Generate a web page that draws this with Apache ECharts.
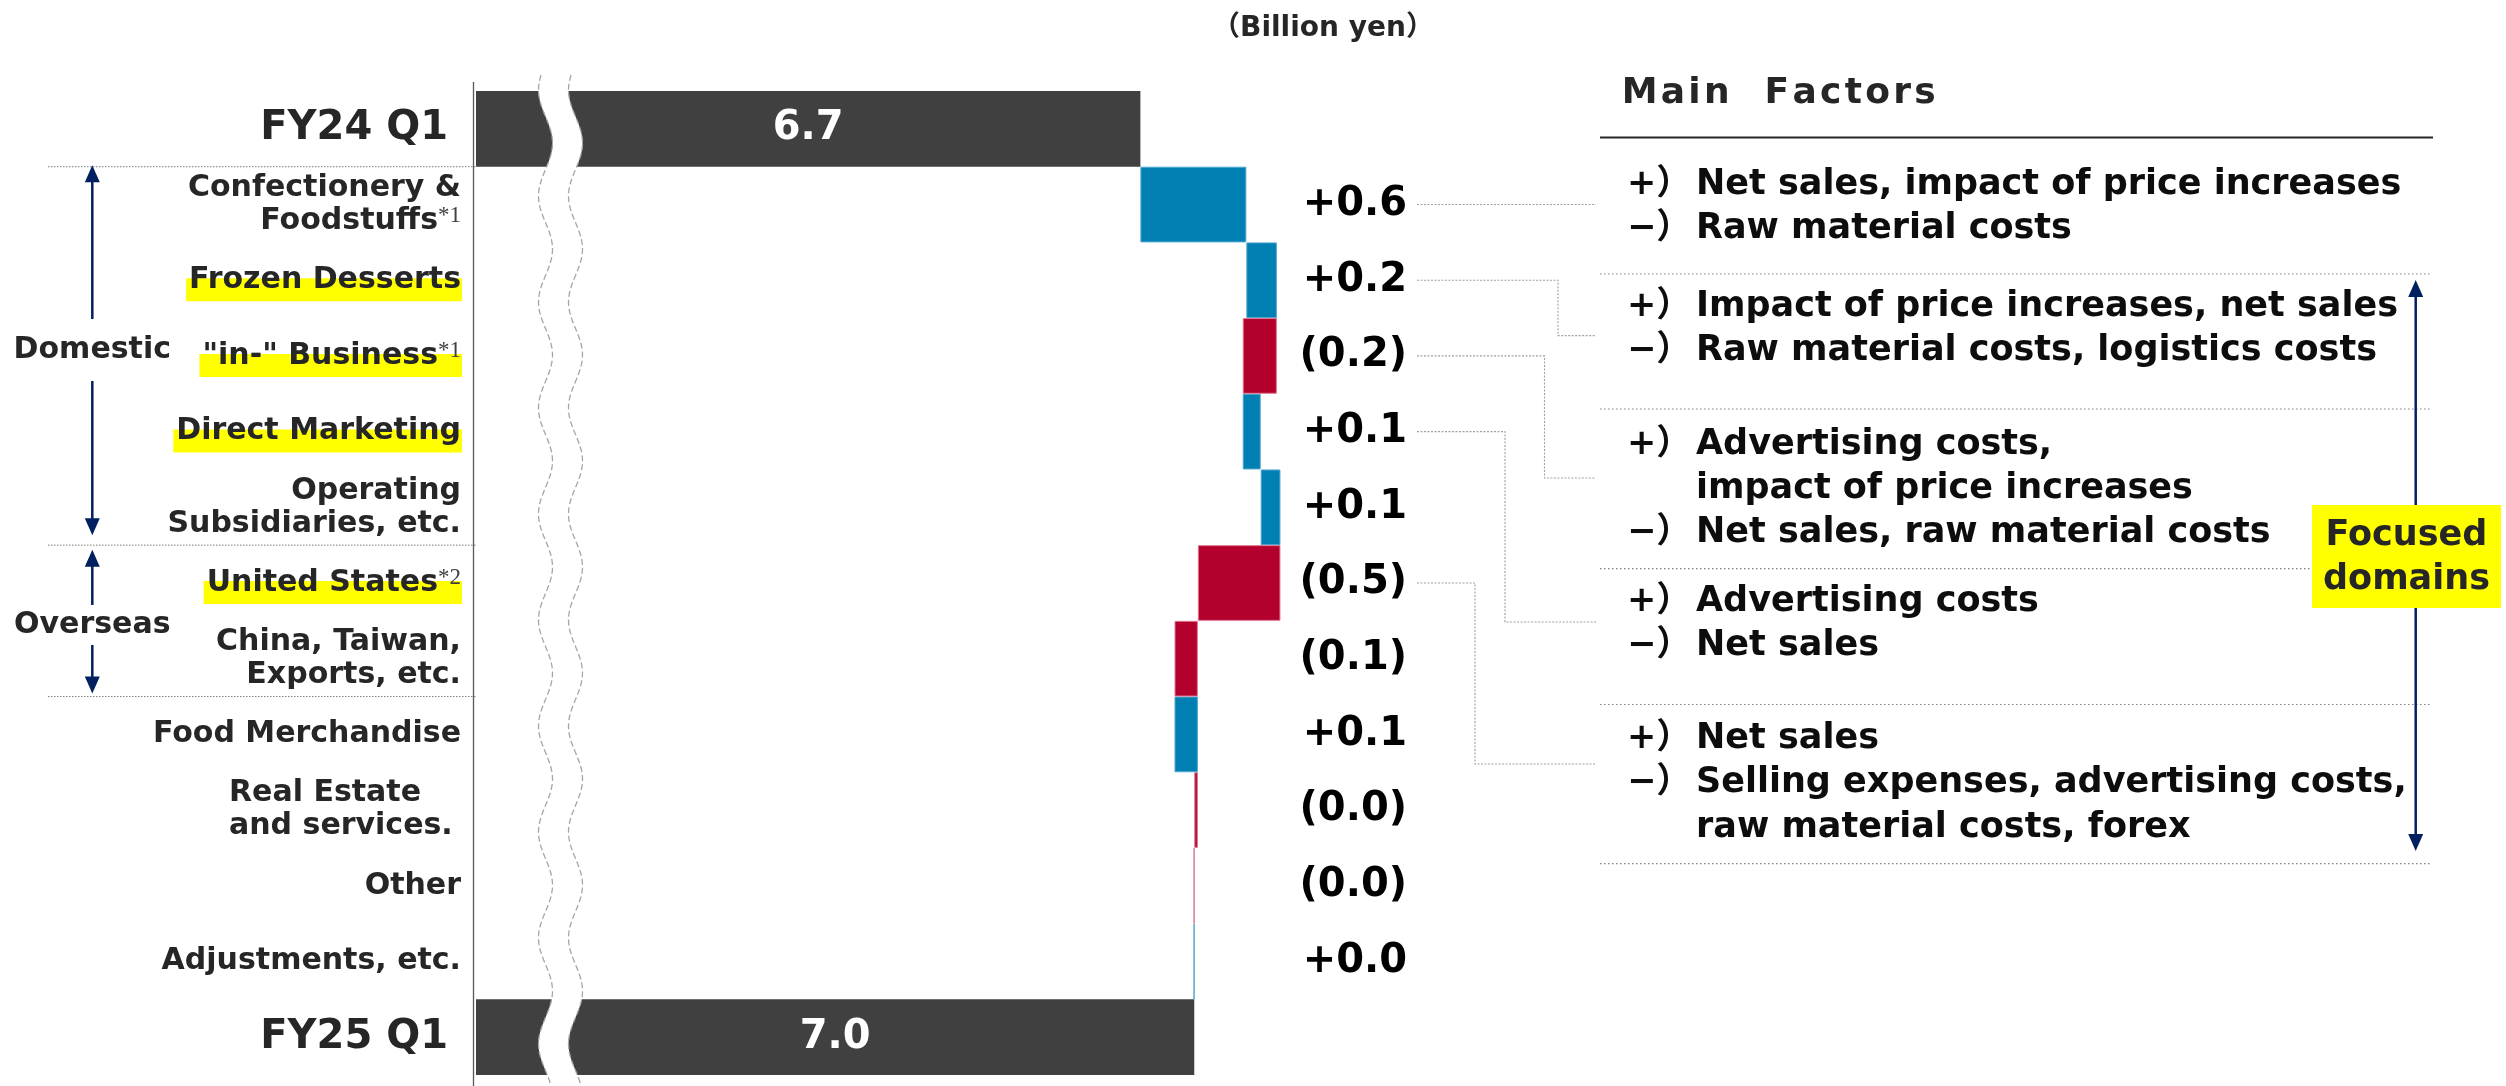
<!DOCTYPE html>
<html>
<head>
<meta charset="utf-8">
<script src="https://cdn.jsdelivr.net/npm/echarts@6/dist/echarts.min.js"></script>
<style>
html,body{margin:0;padding:0;background:#fff;}
#chart{width:2506px;height:1086px;}
</style>
</head>
<body>
<div id="chart"></div>
<script>
// ---------------- data ----------------
const categories = [
  'FY24 Q1',
  'Confectionery &\nFoodstuffs',
  'Frozen Desserts',
  '"in-" Business',
  'Direct Marketing',
  'Operating\nSubsidiaries, etc.',
  'United States',
  'China, Taiwan,\nExports, etc.',
  'Food Merchandise',
  'Real Estate\nand services.',
  'Other',
  'Adjustments, etc.',
  'FY25 Q1'
];
const footnotes = ['', '*1', '', '*1', '', '', '*2', '', '', '', '', '', ''];
const highlighted = [false, false, true, true, true, false, true, false, false, false, false, false, false];
const leftAlignedLabel = [false, false, false, false, false, false, false, false, false, true, false, false, false];
const startTotal = 6.7;
const endTotal = 7.0;
const deltas = [0.59, 0.17, -0.19, 0.10, 0.11, -0.46, -0.13, 0.13, -0.02, -0.002, 0.002];
const unitLabel = '（Billion yen）';
const factorTitle = 'Main  Factors';
const factorRowIndex = [1, 2, 3, 4, 6];
const factorPlus = [
  'Net sales, impact of price increases',
  'Impact of price increases, net sales',
  'Advertising costs,\nimpact of price increases',
  'Advertising costs',
  'Net sales'
];
const factorMinus = [
  'Raw material costs',
  'Raw material costs, logistics costs',
  'Net sales, raw material costs',
  'Net sales',
  'Selling expenses, advertising costs,\nraw material costs, forex'
];
const groupNames = ['Domestic', 'Overseas'];
const groupRows = [[1, 5], [6, 7]];
const focusLabel = ['Focused', 'domains'];

// ---------------- derived series ----------------
const n = categories.length;
const base = [0], up = ['-'], down = ['-'], total = [startTotal];
let cum = startTotal;
deltas.forEach(d => {
  const next = cum + d;
  base.push(Math.min(cum, next));
  up.push(d > 0 ? d : '-');
  down.push(d < 0 ? -d : '-');
  total.push('-');
  cum = next;
});
base.push(0); up.push('-'); down.push('-'); total.push(endTotal);

function fmtDelta(d) {
  const s = Math.abs(d).toFixed(1);
  return d < 0 ? '(' + s + ')' : '+' + s;
}

const FONT = '"DejaVu Sans", "Noto Sans CJK JP", sans-serif';
const TXT = '#262626';
const mctx = document.createElement('canvas').getContext('2d');
function textW(t, font) { mctx.font = font; return mctx.measureText(t).width; }
const fA = 'bold 30px ' + FONT, fS = '23px "Liberation Serif", serif';

// width of left-aligned multi-line label block
let alW = 0;
categories.forEach((c, i) => { if (leftAlignedLabel[i]) c.split('\n').forEach(l => { alW = Math.max(alW, textW(l, fA)); }); });

function catLabel(v, i) {
  const lines = v.split('\n');
  const st = (i === 0 || i === n - 1) ? 'big' : (leftAlignedLabel[i] ? 'al' : 'a');
  return lines.map((l, j) => '{' + st + '|' + l + '}' +
    (j === lines.length - 1 && footnotes[i] ? '{sup|' + footnotes[i] + '}' : '')).join('\n');
}

const chart = echarts.init(document.getElementById('chart'));
const option = {
  animation: false,
  backgroundColor: '#fff',
  grid: {left: 476, top: 91, width: 826, height: 984},
  xAxis: {type: 'value', min: 3, max: 7.6, show: false},
  yAxis: [
    {
      type: 'category', data: categories, inverse: true, position: 'left',
      axisLine: {show: false}, axisTick: {show: false}, splitLine: {show: false},
      axisLabel: {
        interval: 0, margin: 15, formatter: catLabel,
        rich: {
          a: {fontSize: 30, fontWeight: 'bold', fontFamily: FONT, color: TXT, lineHeight: 33},
          al: {fontSize: 30, fontWeight: 'bold', fontFamily: FONT, color: TXT, lineHeight: 33,
               width: Math.ceil(alW) + 1, align: 'left', padding: [0, 7, 0, 0]},
          big: {fontSize: 40, fontWeight: 'bold', fontFamily: FONT, color: TXT, lineHeight: 44, padding: [0, 13, 0, 0]},
          sup: {fontSize: 23, fontFamily: '"Liberation Serif", serif', color: '#404040', lineHeight: 22, verticalAlign: 'top'}
        }
      }
    },
    {
      type: 'category', data: categories, inverse: true, position: 'right',
      axisLine: {show: false}, axisTick: {show: false}, splitLine: {show: false},
      axisLabel: {
        interval: 0, margin: 105, align: 'right',
        formatter: (v, i) => (i > 0 && i < n - 1) ? fmtDelta(deltas[i - 1]) : '',
        fontSize: 40, fontWeight: 'bold', fontFamily: FONT, color: '#000'
      }
    }
  ],
  series: [
    {name: 'base', type: 'bar', stack: 'w', data: base, barCategoryGap: '0%', silent: true,
     itemStyle: {color: 'transparent'}},
    {name: 'total', type: 'bar', stack: 'w', data: total, itemStyle: {color: '#404040'},
     label: {show: true, position: 'inside', formatter: p => Number(p.value).toFixed(1),
             color: '#fff', fontSize: 40, fontWeight: 'bold', fontFamily: FONT}},
    {name: 'increase', type: 'bar', stack: 'w', data: up,
     itemStyle: {color: '#0080B2', borderColor: '#4fa6d0', borderWidth: 1}},
    {name: 'decrease', type: 'bar', stack: 'w', data: down,
     itemStyle: {color: '#B4002D', borderColor: '#dd7790', borderWidth: 1}}
  ]
};
chart.setOption(option);

// ---------------- annotations ----------------
const yOf = i => chart.convertToPixel({yAxisIndex: 0}, i);
const rowH = Math.abs(yOf(1) - yOf(0));
const bnd = i => yOf(i) + rowH / 2; // bottom boundary of row i

const G = [];
const NAVY = '#002060';

// axis line
G.push({type: 'line', z: 60, shape: {x1: 473.5, y1: 82, x2: 473.5, y2: 1086}, style: {stroke: '#595959', lineWidth: 1.3}});

// axis break waves
(function () {
  const wx = (y, c) => c + 7 * Math.sin(2 * Math.PI * (y - 116.5) / 106);
  const L = [], R = [];
  for (let y = 75; y <= 1086; y += 2) { L.push([wx(y, 545.5), y]); R.push([wx(y, 575.5), y]); }
  G.push({type: 'polygon', z: 55, shape: {points: L.concat(R.slice().reverse())}, style: {fill: '#fff'}});
  G.push({type: 'polyline', z: 56, shape: {points: L}, style: {stroke: '#a6a6a6', lineWidth: 1.3, lineDash: [6, 3], fill: null}});
  G.push({type: 'polyline', z: 56, shape: {points: R}, style: {stroke: '#a6a6a6', lineWidth: 1.3, lineDash: [6, 3], fill: null}});
})();

// left dotted separators
[0, 5, 7].forEach(i => {
  const y = bnd(i);
  G.push({type: 'line', z: 60, shape: {x1: 48, y1: y, x2: 476, y2: y}, style: {stroke: '#7f7f7f', lineWidth: 1, lineDash: [1.5, 1.5]}});
});

// highlights behind labels
categories.forEach((c, i) => {
  if (!highlighted[i]) return;
  const w = textW(c, fA) + (footnotes[i] ? textW(footnotes[i], fS) : 0);
  const yc = yOf(i);
  G.push({type: 'rect', z: -5, shape: {x: 461 - w - 3, y: yc - 2, width: w + 4, height: 23}, style: {fill: '#FFFF00'}});
});

// group labels with arrows
function arrowHead(x, y, dir) { // dir -1 up, +1 down
  return {type: 'polygon', z: 60, shape: {points: [[x, y], [x - 7.5, y - dir * 17], [x + 7.5, y - dir * 17]]}, style: {fill: NAVY}};
}
function groupArrow(x, tipTop, tipBottom, labelY, gap, name) {
  G.push({type: 'line', z: 60, shape: {x1: x, y1: tipTop + 10, x2: x, y2: labelY - gap}, style: {stroke: NAVY, lineWidth: 2.5}});
  G.push({type: 'line', z: 60, shape: {x1: x, y1: labelY + gap, x2: x, y2: tipBottom - 10}, style: {stroke: NAVY, lineWidth: 2.5}});
  G.push(arrowHead(x, tipTop, -1));
  G.push(arrowHead(x, tipBottom, 1));
  if (name) G.push({type: 'text', z: 60, x: x, y: labelY, style: {text: name, font: 'bold 30px ' + FONT, fill: TXT, align: 'center', verticalAlign: 'middle'}});
}
groupArrow(92.3, bnd(groupRows[0][0] - 1) - 1.5, bnd(groupRows[0][1]) - 10, 350, 31, groupNames[0]);
groupArrow(92.3, bnd(groupRows[1][0] - 1) + 4.5, bnd(groupRows[1][1]) - 3, 625, 20, groupNames[1]);

// unit label
G.push({type: 'text', z: 60, x: 1323, y: 29, style: {text: unitLabel, font: 'bold 28px ' + FONT, fill: TXT, align: 'center', verticalAlign: 'middle'}});

// right panel
G.push({type: 'text', z: 60, x: 1620, y: 94, style: {
  text: factorTitle.split('').map(ch => '{c|' + ch + '}').join(''),
  rich: {c: {font: 'bold 36px ' + FONT, fill: TXT, padding: [0, 1.65, 0, 1.65]}},
  verticalAlign: 'middle', align: 'left'}});
G.push({type: 'line', z: 60, shape: {x1: 1600, y1: 137.5, x2: 2433, y2: 137.5}, style: {stroke: '#262626', lineWidth: 2}});
const sepY = [274, 409, 568.6, 704.5, 863.7];
sepY.forEach((y, k) => {
  G.push({type: 'line', z: 60, shape: {x1: 1600, y1: y, x2: k === 2 ? 2311 : 2432, y2: y}, style: {stroke: '#808080', lineWidth: 1.2, lineDash: [1.5, 2.5]}});
});
const firstLineY = [185, 307, 444.5, 601.7, 739];
const lineStep = 44.3;
const fF = 'bold 35px ' + FONT;
factorPlus.forEach((p, k) => {
  let y = firstLineY[k];
  [['+）', p], ['−）', factorMinus[k]]].forEach(([sign, txt]) => {
    txt.split('\n').forEach((ln, j) => {
      if (j === 0) G.push({type: 'text', z: 60, x: 1627, y: y, style: {text: sign, font: fF, fill: '#0d0d0d', align: 'left', verticalAlign: 'middle'}});
      G.push({type: 'text', z: 60, x: 1696, y: y, style: {text: ln, font: fF, fill: '#0d0d0d', align: 'left', verticalAlign: 'middle'}});
      y += lineStep;
    });
  });
});
// connectors
const connTargetY = [204.6, 335.6, 478, 622, 764];
const connElbowX = [null, 1558, 1544.5, 1505, 1475];
factorRowIndex.forEach((ri, k) => {
  const ys = yOf(ri);
  const pts = connElbowX[k] === null
    ? [[1417, ys], [1596, ys]]
    : [[1417, ys], [connElbowX[k], ys], [connElbowX[k], connTargetY[k]], [1596, connTargetY[k]]];
  G.push({type: 'polyline', z: 60, shape: {points: pts}, style: {stroke: '#a0a0a0', lineWidth: 1.1, lineDash: [2, 1.5], fill: null}});
});
// focused domains
G.push({type: 'line', z: 60, shape: {x1: 2415.7, y1: 290, x2: 2415.7, y2: 505}, style: {stroke: NAVY, lineWidth: 2.5}});
G.push({type: 'line', z: 60, shape: {x1: 2415.7, y1: 608, x2: 2415.7, y2: 841}, style: {stroke: NAVY, lineWidth: 2.5}});
G.push(arrowHead(2415.7, 280, -1));
G.push(arrowHead(2415.7, 851, 1));
G.push({type: 'rect', z: 61, shape: {x: 2312, y: 505, width: 189, height: 103}, style: {fill: '#FFFF00'}});
focusLabel.forEach((t, j) => {
  G.push({type: 'text', z: 62, x: 2406.5, y: 536 + j * 44, style: {text: t, font: 'bold 35px ' + FONT, fill: TXT, align: 'center', verticalAlign: 'middle'}});
});

chart.setOption({graphic: {elements: G}});
</script>
</body>
</html>
